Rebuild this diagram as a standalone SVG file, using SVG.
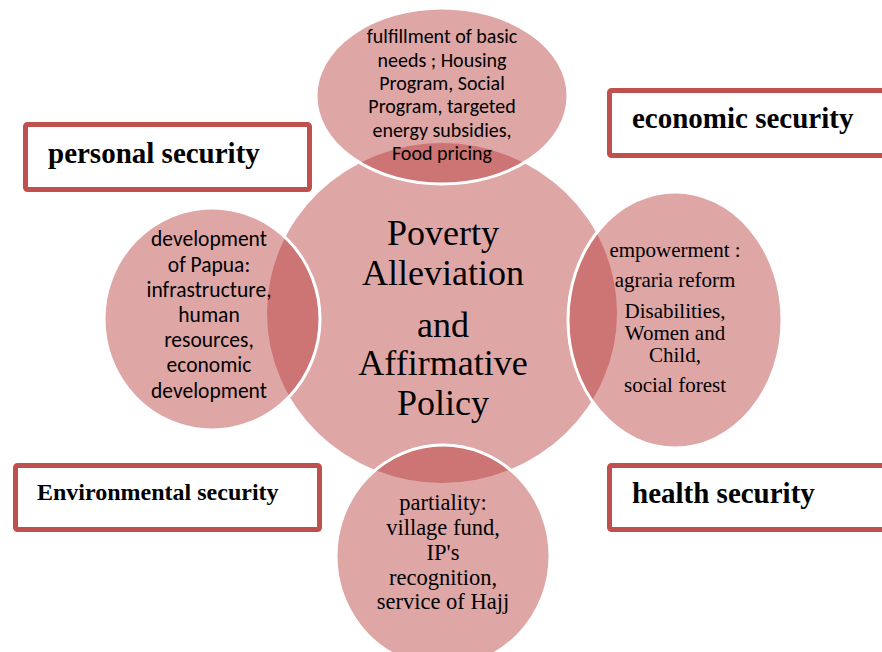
<svg xmlns="http://www.w3.org/2000/svg" width="882" height="652" viewBox="0 0 882 652">
<style>
.core{fill:#dfa6a6}
.sat{fill:rgb(182,52,52);fill-opacity:0.44;stroke:#ffffff;stroke-width:3}
.box{fill:#ffffff;stroke:#c0504d;stroke-width:5}
.sans{font-family:Carlito,Lato,"Liberation Sans",sans-serif;fill:#000;text-anchor:middle}
.serif{font-family:"Liberation Serif","Times New Roman",serif;fill:#000;text-anchor:middle}
.lbl{font-family:"Liberation Serif","Times New Roman",serif;font-weight:bold;fill:#000}
</style>
<rect width="882" height="652" fill="#ffffff"/>
<g id="center">
<ellipse class="core" cx="442" cy="313" rx="175" ry="170"/>
</g>
<g id="top">
<ellipse class="sat" cx="442" cy="96" rx="126" ry="88"/>
</g>
<g id="left">
<ellipse class="sat" cx="212" cy="319" rx="108" ry="111"/>
</g>
<g id="right">
<ellipse class="sat" cx="675" cy="320" rx="107" ry="128"/>
</g>
<g id="bottom">
<ellipse class="sat" cx="443" cy="556" rx="107" ry="111"/>
</g>
<g id="center-text" class="serif" font-size="36">
<text x="443" y="245">Poverty</text>
<text x="443" y="285">Alleviation</text>
<text x="443" y="337">and</text>
<text x="443" y="375">Affirmative</text>
<text x="443" y="415">Policy</text>
</g>
<g id="top-text" class="sans" font-size="20">
<text x="442" y="43">fulfillment of basic</text>
<text x="442" y="67">needs ; Housing</text>
<text x="442" y="90">Program, Social</text>
<text x="442" y="113">Program, targeted</text>
<text x="442" y="137">energy subsidies,</text>
<text x="442" y="160">Food pricing</text>
</g>
<g id="left-text" class="sans" font-size="21.5">
<text x="209" y="246">development</text>
<text x="209" y="271.5">of Papua:</text>
<text x="209" y="297">infrastructure,</text>
<text x="209" y="322">human</text>
<text x="209" y="347">resources,</text>
<text x="209" y="372">economic</text>
<text x="209" y="398">development</text>
</g>
<g id="right-text" class="serif" font-size="21">
<text x="675" y="257">empowerment :</text>
<text x="675" y="287">agraria reform</text>
<text x="675" y="318">Disabilities,</text>
<text x="675" y="340">Women and</text>
<text x="675" y="362">Child,</text>
<text x="675" y="392">social forest</text>
</g>
<g id="bottom-text" class="serif" font-size="22.5">
<text x="443" y="510">partiality:</text>
<text x="443" y="535">village fund,</text>
<text x="443" y="560">IP's</text>
<text x="443" y="585">recognition,</text>
<text x="443" y="609">service of Hajj</text>
</g>
<g id="personal-security">
<rect class="box" x="25.5" y="124.5" width="284" height="65" rx="2"/>
<text class="lbl" x="48" y="163" font-size="29">personal security</text>
</g>
<g id="economic-security">
<rect class="box" x="609.5" y="90.5" width="300" height="65" rx="2"/>
<text class="lbl" x="632" y="128" font-size="29">economic security</text>
</g>
<g id="environmental-security">
<rect class="box" x="15.5" y="465.5" width="304" height="64" rx="2"/>
<text class="lbl" x="37" y="500" font-size="24">Environmental security</text>
</g>
<g id="health-security">
<rect class="box" x="609.5" y="465.5" width="300" height="64" rx="2"/>
<text class="lbl" x="632" y="503" font-size="29">health security</text>
</g>
<g id="connectors"/>
</svg>
